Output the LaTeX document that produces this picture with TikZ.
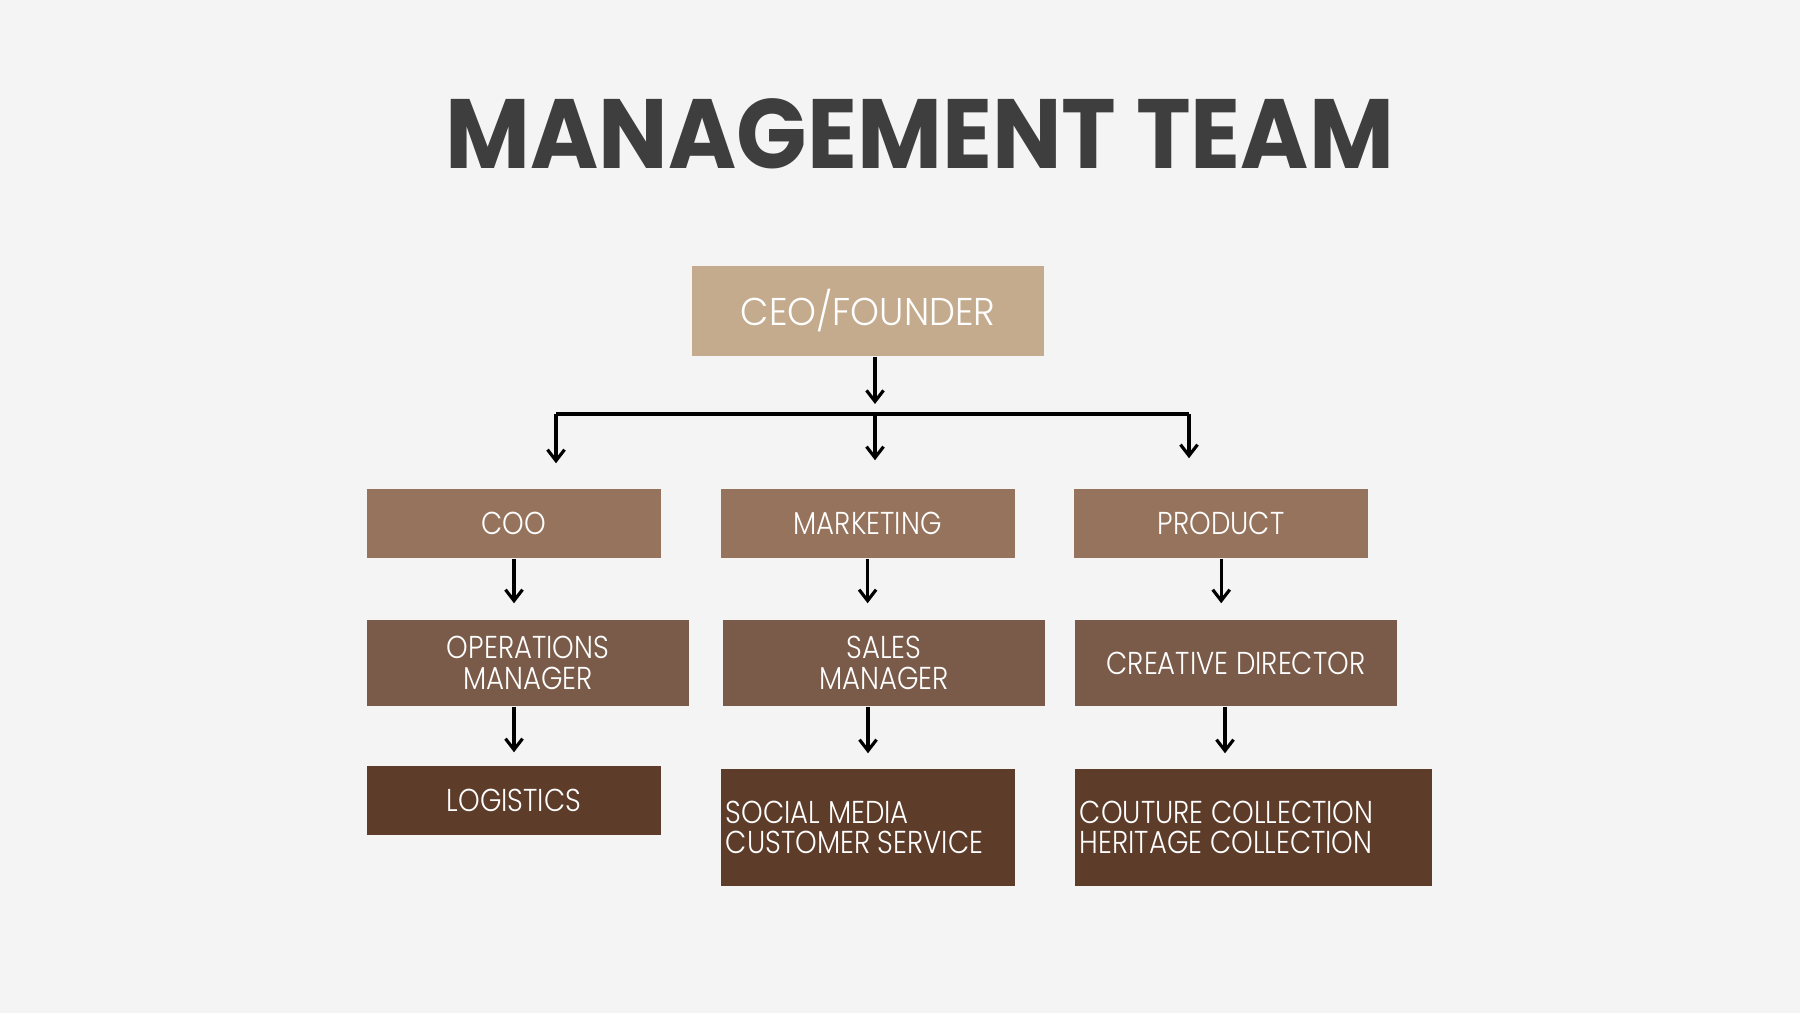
\documentclass[tikz,border=0pt]{standalone}
\usepackage{fontspec}
\setmainfont{Poppins}
\newfontfamily\boxfont{Poppins Light}[FakeStretch=0.87]
\newfontfamily\ceofont{Poppins Light}[FakeStretch=0.95]
\newfontfamily\titlefont{Poppins}[FakeStretch=0.94]
\usepackage{xcolor}
\definecolor{pagebg}{RGB}{244,244,244}
\definecolor{titlegray}{RGB}{62,62,62}
\definecolor{tanceo}{RGB}{196,171,141}
\definecolor{brownA}{RGB}{150,115,92}
\definecolor{brownB}{RGB}{122,90,72}
\definecolor{brownC}{RGB}{94,60,42}
\usetikzlibrary{arrows.meta, positioning}

\tikzset{
  box/.style={inner sep=0pt, text=white, align=center,
              font=\boxfont\fontsize{9}{8.7}\selectfont},
  lvlone/.style={box, fill=tanceo, minimum width=3.51cm, minimum height=0.90cm,
                 font=\ceofont\fontsize{11}{12}\selectfont},
  lvltwo/.style={box, fill=brownA, minimum width=2.94cm, minimum height=0.69cm},
  lvlthree/.style={box, fill=brownB, minimum width=3.22cm, minimum height=0.86cm},
  lvlfour/.style={box, fill=brownC, minimum height=1.17cm, align=flush left, inner xsep=0.05cm},
  link/.style={line width=0.9pt, black},
  arr/.style={link, -{Straight Barb[length=1.1mm, width=1.7mm]}}
}

\begin{document}
\begin{tikzpicture}[x=0.01cm, y=-0.01cm]

% background and title
\fill[pagebg] (0,0) rectangle (1800,1013);
\node[anchor=base, inner sep=0pt, text=titlegray,
      font=\titlefont\bfseries\fontsize{28}{30}\selectfont] (title) at (920,169) {MANAGEMENT TEAM};

% --- top ---
\node[lvlone] (ceo) at (868,311) {CEO/FOUNDER};

% --- second row ---
\node[lvltwo] (coo) at (514,523.5) {COO};
\node[lvltwo, right=0.58cm of coo] (mkt) {MARKETING};
\node[lvltwo, right=0.58cm of mkt] (prod) {PRODUCT};

% --- third row ---
\node[lvlthree] (ops) at (528,663) {OPERATIONS\\MANAGER};
\node[lvlthree] (sales) at (884,663) {SALES\\MANAGER};
\node[lvlthree] (creative) at (1236,663) {CREATIVE DIRECTOR};

% --- fourth row ---
\node[lvltwo, fill=brownC] (logistics) at (514,800.5) {LOGISTICS};
\node[lvlfour, minimum width=2.94cm, text width=2.84cm] (social) at (868,827.5)
     {SOCIAL MEDIA\\CUSTOMER SERVICE};
\node[lvlfour, minimum width=3.57cm, text width=3.47cm] (couture) at (1253.5,827.5)
     {COUTURE COLLECTION\\HERITAGE COLLECTION};

% bus under the CEO
\coordinate (busL) at (556,414);
\coordinate (busM) at (875,414);
\coordinate (busR) at (1189,414);
\draw[arr, shorten >=0.1cm] (ceo.south -| busM) -- (busM);
\draw[link] (busL) -- (busR);
\draw[arr, shorten >=0.25cm] (busL) -- (busL |- coo.north);
\draw[arr, shorten >=0.28cm] (busM) -- (busM |- mkt.north);
\draw[arr, shorten >=0.30cm] (busR) -- (busR |- prod.north);

% second to third row
\draw[arr, shorten >=0.16cm] (coo.south) -- (coo.south |- ops.north);
\draw[arr, shorten >=0.16cm] (mkt.south) -- (mkt.south |- sales.north);
\draw[arr, shorten >=0.16cm] (prod.south) -- (prod.south |- creative.north);

% third to fourth row
\draw[arr, shorten >=0.13cm] (logistics.north |- ops.south) -- (logistics.north);
\draw[arr, shorten >=0.15cm] (social.north |- sales.south) -- (social.north);
\draw[arr, shorten >=0.15cm] ([xshift=-0.11cm]creative.south) -- ([xshift=-0.11cm]creative.south |- couture.north);

\end{tikzpicture}
\end{document}
